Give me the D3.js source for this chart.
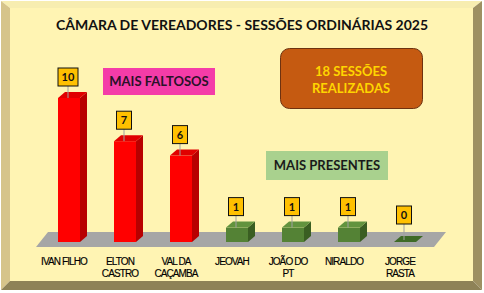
<!DOCTYPE html>
<html>
<head>
<meta charset="utf-8">
<title>Câmara de Vereadores - Sessões Ordinárias 2025</title>
<script src="https://d3js.org/d3.v7.min.js"></script>
<style>
  body { margin: 0; background: #fff; }
  svg text { font-family: Lato, "Open Sans", sans-serif; }
</style>
</head>
<body>
<div id="chart"></div>
<script>
// data
const categories = ["IVAN FILHO", "ELTON CASTRO", "VAL DA CAÇAMBA", "JEOVAH", "JOÃO DO PT", "NIRALDO", "JORGE RASTA"];
const tickLines = [["IVAN FILHO"], ["ELTON", "CASTRO"], ["VAL DA", "CAÇAMBA"], ["JEOVAH"], ["JOÃO DO", "PT"], ["NIRALDO"], ["JORGE", "RASTA"]];
const faltas = [10, 7, 6, 1, 1, 1, 0];
const grupos = ["faltoso", "faltoso", "faltoso", "presente", "presente", "presente", "presente"];
const title = "CÂMARA DE VEREADORES - SESSÕES ORDINÁRIAS 2025";
const sessoesLines = ["18 SESSÕES", "REALIZADAS"];

const width = 484, height = 293;
const svg = d3.select("#chart").append("svg")
    .attr("width", width).attr("height", height);

// beveled frame
svg.append("rect").attr("x", 0).attr("y", 0).attr("width", width).attr("height", height).attr("fill", "#fff");
const fo = { l: 1, t: 1, r: 482, b: 290 }, fi = { l: 10, t: 8, r: 473, b: 281 };
const bevel = [
  { c: "#F7EDB0", p: [[fo.l, fo.t], [fo.r, fo.t], [fi.r, fi.t], [fi.l, fi.t]] },
  { c: "#D6C48A", p: [[fo.l, fo.t], [fi.l, fi.t], [fi.l, fi.b], [fo.l, fo.b]] },
  { c: "#9E9062", p: [[fo.r, fo.t], [fo.r, fo.b], [fi.r, fi.b], [fi.r, fi.t]] },
  { c: "#8E8257", p: [[fo.l, fo.b], [fi.l, fi.b], [fi.r, fi.b], [fo.r, fo.b]] }
];
svg.selectAll(".bevel").data(bevel).join("polygon")
    .attr("points", d => d.p.join(" ")).attr("fill", d => d.c);
svg.append("rect").attr("x", fi.l).attr("y", fi.t)
    .attr("width", fi.r - fi.l).attr("height", fi.b - fi.t).attr("fill", "#FFF4B3");

// title
svg.append("text").attr("x", 242).attr("y", 30).attr("text-anchor", "middle")
    .attr("font-weight", "bold").attr("font-size", 14).attr("fill", "#111")
    .text(title);

// scales
const x = d3.scalePoint().domain(categories).range([69, 405]);
const y = d3.scaleLinear().domain([0, 10]).range([242, 98]);
const bw = 22, dx = 7, dy = -6;

// floor
const floorY0 = y(0) + 5, floorY1 = y(0) - 10;
svg.append("polygon")
    .attr("points", [[36, floorY0], [434, floorY0], [446, floorY1], [48, floorY1]].join(" "))
    .attr("fill", "#A6A6A6");

const colors = {
  faltoso: { front: "#FF0000", side: "#B80000", top: "#E00000" },
  presente: { front: "#548235", side: "#3A5E22", top: "#62933E" }
};

const bars = svg.selectAll(".bar").data(categories).join("g").attr("class", "bar");
bars.each(function (c, i) {
  const g = d3.select(this);
  const col = colors[grupos[i]];
  const x0 = x(c) - bw / 2, x1 = x(c) + bw / 2;
  const yt = y(faltas[i]), yb = y(0);
  if (faltas[i] > 0) {
    g.append("polygon").attr("fill", col.side)
      .attr("points", [[x1, yb], [x1 + dx, yb + dy], [x1 + dx, yt + dy], [x1, yt]].join(" "));
    g.append("rect").attr("fill", col.front)
      .attr("x", x0).attr("y", yt).attr("width", bw).attr("height", yb - yt);
  }
  g.append("polygon").attr("fill", faltas[i] > 0 ? col.top : "#3E6A26")
    .attr("points", [[x0, yt], [x1, yt], [x1 + dx, yt + dy], [x0 + dx, yt + dy]].join(" "));
});

// data labels with leader lines
const labH = 18, gap = 12;
const labels = svg.selectAll(".lab").data(categories).join("g").attr("class", "lab");
labels.each(function (c, i) {
  const g = d3.select(this);
  const txt = String(faltas[i]);
  const w = txt.length > 1 ? 20 : 15;
  const cx = x(c) - 1;
  const by = y(faltas[i]) - gap - (faltas[i] === 0 ? 6 : 0);
  g.append("line").attr("x1", cx).attr("x2", cx)
    .attr("y1", by).attr("y2", y(faltas[i]) + (faltas[i] === 0 ? -2 : 0))
    .attr("stroke", "#A0A0A0").attr("stroke-width", 1);
  g.append("rect").attr("x", cx - w / 2).attr("y", by - labH)
    .attr("width", w).attr("height", labH)
    .attr("fill", "#FFC000").attr("stroke", "#111").attr("stroke-width", 1);
  g.append("text").attr("x", cx).attr("y", by - labH / 2 + 4)
    .attr("text-anchor", "middle").attr("font-weight", "bold").attr("font-size", 11)
    .attr("fill", "#111").text(txt);
});

// category labels
svg.selectAll(".cat").data(categories).join("text").attr("class", "cat")
    .attr("y", 265)
    .attr("text-anchor", "middle")
    .style("font-family", "'Liberation Sans', Arial, sans-serif")
    .attr("font-size", 10).attr("letter-spacing", -0.9).attr("fill", "#000")
    .attr("stroke", "#000").attr("stroke-width", 0.15)
  .selectAll("tspan").data((d, i) => tickLines[i].map(t => ({ t, c: d })))
  .join("tspan")
    .attr("x", d => x(d.c) - 5).attr("dy", (d, k) => k ? 12 : 0).text(d => d.t);

// MAIS FALTOSOS box
svg.append("rect").attr("x", 103).attr("y", 68).attr("width", 112).attr("height", 27).attr("fill", "#F43CA8");
svg.append("text").attr("x", 159).attr("y", 86).attr("text-anchor", "middle")
    .attr("font-weight", "bold").attr("font-size", 13).attr("fill", "#2A1228").text("MAIS FALTOSOS");

// MAIS PRESENTES box
svg.append("rect").attr("x", 266).attr("y", 151).attr("width", 122).attr("height", 29).attr("fill", "#A9D18E");
svg.append("text").attr("x", 327).attr("y", 170).attr("text-anchor", "middle")
    .attr("font-weight", "bold").attr("font-size", 13).attr("fill", "#1A1A1A").text("MAIS PRESENTES");

// sessions box
svg.append("rect").attr("x", 280.5).attr("y", 48.5).attr("width", 142).attr("height", 60).attr("rx", 9)
    .attr("fill", "#C55A11").attr("stroke", "#6E3210").attr("stroke-width", 1);
svg.selectAll(".sess").data(sessoesLines).join("text").attr("class", "sess")
    .attr("x", 351).attr("y", (d, i) => 76 + i * 17).attr("text-anchor", "middle")
    .attr("font-weight", "bold").attr("font-size", 13).attr("fill", "#FFD500").text(d => d);
</script>
</body>
</html>
